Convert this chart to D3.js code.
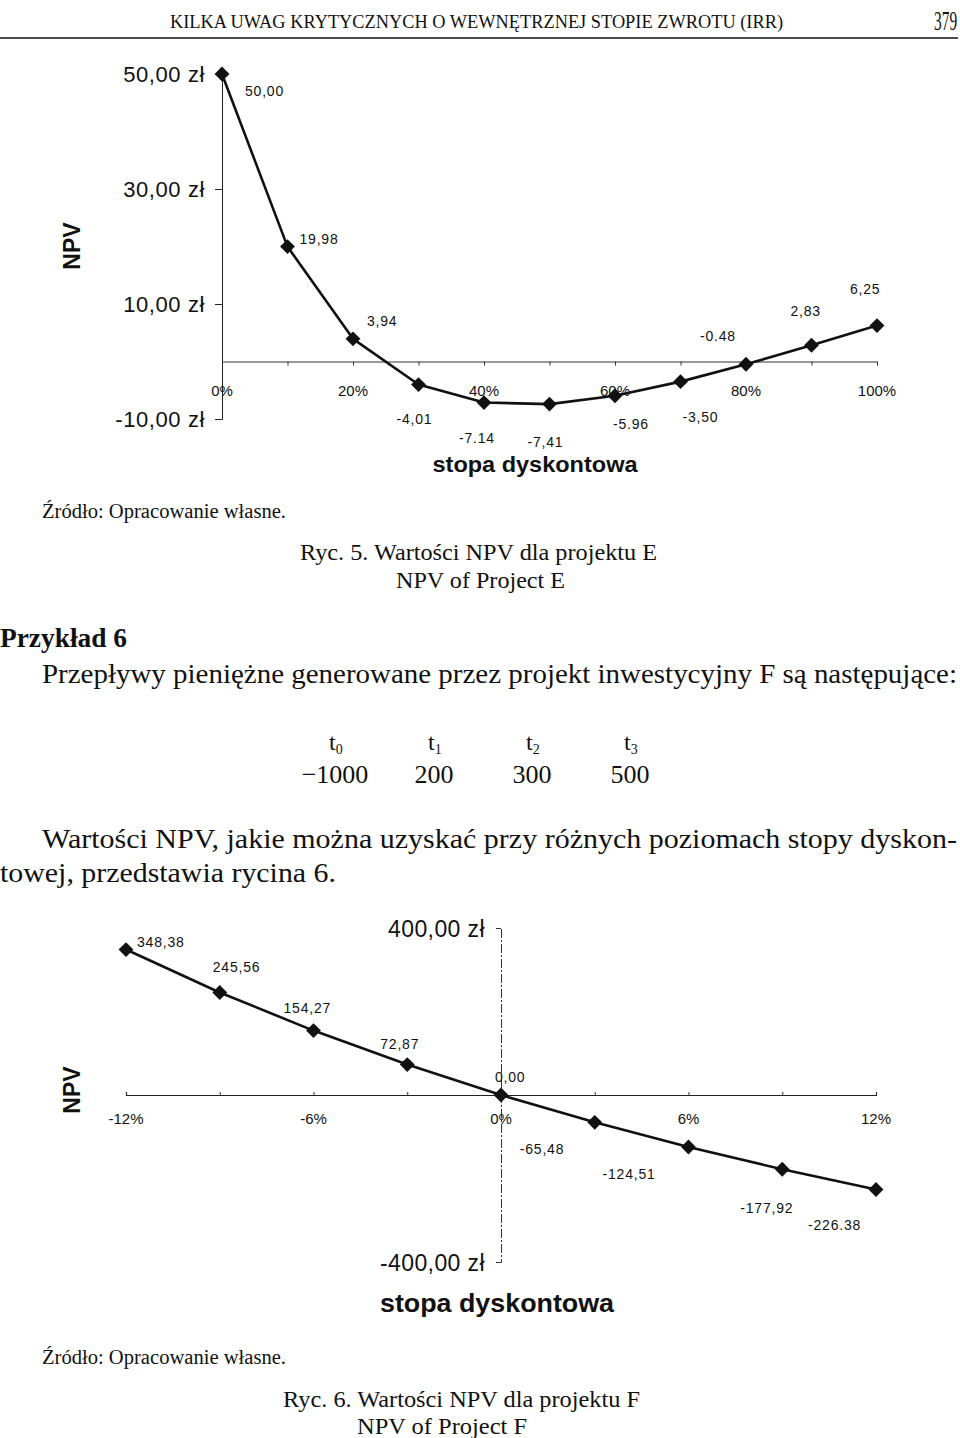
<!DOCTYPE html>
<html>
<head>
<meta charset="utf-8">
<script src="https://cdn.jsdelivr.net/npm/d3@7/dist/d3.min.js"></script>
<style>
  html, body { margin: 0; padding: 0; background: #fff; }
  svg { display: block; }
  .serif { font-family: "Liberation Serif", "Times New Roman", serif; fill: #111; }
  .sans { font-family: "Liberation Sans", Arial, sans-serif; fill: #111; }
</style>
</head>
<body>
<svg id="page" width="960" height="1438"></svg>
<script>
// ---------------- DATA ----------------
// Ryc. 5 – Project E
const ratesE = [0, 10, 20, 30, 40, 50, 60, 70, 80, 90, 100];
const npvE = [50.00, 19.98, 3.94, -4.01, -7.14, -7.41, -5.96, -3.50, -0.48, 2.83, 6.25];
const labelsE = ["50,00", "19,98", "3,94", "-4,01", "-7.14", "-7,41", "-5.96", "-3,50", "-0.48", "2,83", "6,25"];
const xTicksE = [0, 20, 40, 60, 80, 100];
const xTickLabelsE = ["0%", "20%", "40%", "60%", "80%", "100%"];
const yTicksE = [50, 30, 10, -10];
const yTickLabelsE = ["50,00 zł", "30,00 zł", "10,00 zł", "-10,00 zł"];

// Ryc. 6 – Project F
const ratesF = [-12, -9, -6, -3, 0, 3, 6, 9, 12];
const npvF = [348.38, 245.56, 154.27, 72.87, 0.00, -65.48, -124.51, -177.92, -226.38];
const labelsF = ["348,38", "245,56", "154,27", "72,87", "0,00", "-65,48", "-124,51", "-177,92", "-226.38"];
const xTicksF = [-12, -6, 0, 6, 12];
const xTickLabelsF = ["-12%", "-6%", "0%", "6%", "12%"];
const yTicksF = [400, -400];
const yTickLabelsF = ["400,00 zł", "-400,00 zł"];

// Cash flows (Przykład 6)
const periods = ["0", "1", "2", "3"];
const cashFlows = ["\u22121000", "200", "300", "500"];

// ---------------- LAYOUT (label offsets in px) ----------------
const offE = [[23,22],[12,-3],[14,-13],[-22,39],[-25,40],[-22,43],[-2,33],[2,40],[-46,-23],[-21,-29],[-27,-32]];
const offF = [[11,-3],[-7,-20],[-30,-18],[-27,-16],[-6,-13],[-75,32],[-86,32],[-42,44],[-68,40]];

const svg = d3.select("#page");

function txt(x, y, s, cls, size, opts = {}) {
  const t = svg.append("text").attr("x", x).attr("y", y).attr("class", cls)
    .attr("font-size", size).text(s);
  if (opts.anchor) t.attr("text-anchor", opts.anchor);
  if (opts.weight) t.attr("font-weight", opts.weight);
  if (opts.len) t.attr("textLength", opts.len).attr("lengthAdjust", "spacingAndGlyphs");
  if (opts.ls) t.attr("letter-spacing", opts.ls);
  return t;
}

// ---------------- PAGE TEXT ----------------
txt(170, 28, "KILKA UWAG KRYTYCZNYCH O WEWNĘTRZNEJ STOPIE ZWROTU (IRR)", "serif", 19, {len: 613});
svg.append("text").attr("class", "serif").attr("font-size", 28)
  .attr("transform", "translate(934,30) scale(0.55,1)").text("379");
svg.append("line").attr("x1", 0).attr("x2", 958).attr("y1", 38).attr("y2", 38)
  .attr("stroke", "#111").attr("stroke-width", 1.6);

txt(42, 518, "Źródło: Opracowanie własne.", "serif", 20, {len: 244});
txt(300, 560, "Ryc. 5. Wartości NPV dla projektu E", "serif", 24, {len: 357});
txt(396, 588, "NPV of Project E", "serif", 24, {len: 169});

txt(0, 647, "Przykład 6", "serif", 27, {weight: "bold", len: 127});
txt(42, 683, "Przepływy pieniężne generowane przez projekt inwestycyjny F są następujące:", "serif", 28, {len: 915});

const colX = [333, 432, 530, 628];
periods.forEach((p, i) => {
  const t = svg.append("text").attr("class", "serif").attr("font-size", 24)
    .attr("x", colX[i] - 4).attr("y", 750);
  t.append("tspan").text("t");
  t.append("tspan").attr("font-size", 14).attr("dy", 4).text(p);
  txt(colX[i] + 2, 783, cashFlows[i], "serif", 26, {anchor: "middle"});
});

txt(42, 848, "Wartości NPV, jakie można uzyskać przy różnych poziomach stopy dyskon-", "serif", 28, {len: 915});
txt(0, 882, "towej, przedstawia rycina 6.", "serif", 28, {len: 336});

txt(42, 1364, "Źródło: Opracowanie własne.", "serif", 20, {len: 244});
txt(283, 1407, "Ryc. 6. Wartości NPV dla projektu F", "serif", 24, {len: 357});
txt(357, 1434, "NPV of Project F", "serif", 24, {len: 170});

// ---------------- CHART HELPERS ----------------
const marker = d3.symbol().type(d3.symbolSquare).size(110);

function drawSeries(g, xs, ys, rates, vals, labels, offs, lblSize) {
  const line = d3.line().x((d, i) => xs(rates[i])).y(d => ys(d));
  g.append("path").datum(vals).attr("d", line)
    .attr("fill", "none").attr("stroke", "#111").attr("stroke-width", 2.6)
    .attr("stroke-linejoin", "round");
  g.selectAll("path.mk").data(vals).join("path").attr("class", "mk")
    .attr("d", marker)
    .attr("transform", (d, i) => `translate(${xs(rates[i])},${ys(d)}) rotate(45)`)
    .attr("fill", "#111");
  g.selectAll("text.dl").data(vals).join("text").attr("class", "dl sans")
    .attr("x", (d, i) => xs(rates[i]) + offs[i][0])
    .attr("y", (d, i) => ys(d) + offs[i][1])
    .attr("font-size", lblSize).attr("letter-spacing", 0.8)
    .text((d, i) => labels[i]);
}

// ---------------- CHART E ----------------
{
  const xs = d3.scaleLinear().domain([0, 100]).range([222, 877]);
  const ys = d3.scaleLinear().domain([-10, 50]).range([419, 74]);
  const g = svg.append("g");

  const yAxis = d3.axisLeft(ys).tickValues(yTicksE).tickSize(7).tickFormat("");
  const ya = g.append("g").attr("transform", `translate(${xs(0)},0)`).call(yAxis);
  ya.select(".domain").attr("stroke", "#222").attr("stroke-width", 1);
  ya.selectAll(".tick line").attr("stroke", "#222");
  yTicksE.forEach((v, i) => txt(205, ys(v) + 8, yTickLabelsE[i], "sans", 22, {anchor: "end", ls: 0.6}));

  const xAxis = d3.axisBottom(xs).tickValues(d3.range(0, 101, 10)).tickSize(4).tickFormat("");
  const xa = g.append("g").attr("transform", `translate(0,${ys(0)})`).call(xAxis);
  xa.select(".domain").attr("stroke", "#333").attr("stroke-width", 1);
  xa.selectAll(".tick line").attr("stroke", "#333");
  xTicksE.forEach((v, i) => txt(xs(v), 396, xTickLabelsE[i], "sans", 15, {anchor: "middle"}));

  drawSeries(g, xs, ys, ratesE, npvE, labelsE, offE, 14);

  svg.append("text").attr("class", "sans").attr("font-size", 23).attr("font-weight", "bold")
    .attr("text-anchor", "middle").attr("transform", "translate(80,246) rotate(-90)").text("NPV");
  txt(535, 472, "stopa dyskontowa", "sans", 22, {anchor: "middle", weight: "bold", len: 205});
}

// ---------------- CHART F ----------------
{
  const xs = d3.scaleLinear().domain([-12, 12]).range([126, 876]);
  const ys = d3.scaleLinear().domain([-400, 400]).range([1262, 928]);
  const g = svg.append("g");

  const yAxis = d3.axisLeft(ys).tickValues(yTicksF).tickSize(5).tickFormat("");
  const ya = g.append("g").attr("transform", `translate(${xs(0)},0)`).call(yAxis);
  ya.select(".domain").attr("stroke", "#333").attr("stroke-width", 1).attr("stroke-dasharray", "9,2,2,2");
  ya.selectAll(".tick line").attr("stroke", "#333");
  yTicksF.forEach((v, i) => txt(485, ys(v) + 9, yTickLabelsF[i], "sans", 23, {anchor: "end", ls: 0.4}));

  const xAxis = d3.axisTop(xs).tickValues(d3.range(-12, 13, 3)).tickSize(3).tickFormat("");
  const xa = g.append("g").attr("transform", `translate(0,${ys(0)})`).call(xAxis);
  xa.select(".domain").attr("stroke", "#222").attr("stroke-width", 1.2);
  xa.selectAll(".tick line").attr("stroke", "#333");
  xTicksF.forEach((v, i) => txt(xs(v), 1124, xTickLabelsF[i], "sans", 15, {anchor: "middle"}));

  drawSeries(g, xs, ys, ratesF, npvF, labelsF, offF, 14);

  svg.append("text").attr("class", "sans").attr("font-size", 23).attr("font-weight", "bold")
    .attr("text-anchor", "middle").attr("transform", "translate(80,1090) rotate(-90)").text("NPV");
  txt(497, 1312, "stopa dyskontowa", "sans", 25, {anchor: "middle", weight: "bold", len: 234});
}
</script>
</body>
</html>
